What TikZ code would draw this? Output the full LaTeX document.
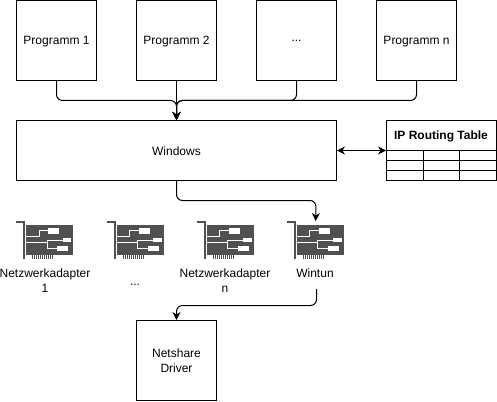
\documentclass[tikz,border=0pt]{standalone}
\usepackage{fontspec}
\setmainfont{Liberation Sans}
\usetikzlibrary{arrows.meta}
\definecolor{icongray}{HTML}{505050}
\newcommand{\dn}[1]{\raisebox{-0.8pt}[\height][\depth]{#1}}
\tikzset{
  x=1pt,y=-1pt,
  box/.style={draw=black,line width=1pt,minimum width=80pt,inner sep=0pt,align=center,font=\fontsize{12}{15}\selectfont},
  lbl/.style={inner sep=0pt,align=center,font=\fontsize{12}{15}\selectfont},
  conn/.style={draw=black,line width=1pt,rounded corners=6pt,-{Stealth[length=8pt,width=8pt]}},
  cardbox/.style={inner sep=0pt,minimum width=58pt,minimum height=38pt},
  grid/.style={draw=black,line width=1pt}
}
\newcommand{\cardicon}[2]{%
  \node[cardbox,anchor=north west] (#1) at (#2,221) {};
  \begin{scope}[shift={(#2,221)}]
    \draw[icongray,line width=2pt] (0,0.5) -- (8,0.5) -- (8,38);
    \fill[icongray] (10,4) rectangle (57.3,34);
    \foreach \px in {16,18,20,22,24,26,28,30,32,34,36}{\fill[icongray] (\px,34) rectangle (\px+1,37.5);}
    \draw[white,line width=1pt] (10,15) -- (23,15) -- (23,9.5) -- (33,9.5);
    \draw[white,line width=1pt] (10,21.5) -- (31,21.5) -- (31,19) -- (47,19);
    \draw[white,line width=1pt] (31,21.5) -- (31,27.5) -- (41,27.5);
    \fill[white] (32,7) rectangle (43,12.5);
    \fill[white] (46.7,16.5) rectangle (55,21);
    \fill[white] (41,25) rectangle (52,30);
  \end{scope}}
\begin{document}
\begin{tikzpicture}
\useasboundingbox (0,0) rectangle (497,401);
\fill[white] (0,0) rectangle (497,401);
\node[box,minimum height=80pt] (p1) at (56.5,40.5) {\dn{Programm 1}};
\node[box,minimum height=80pt] (p2) at (176.5,40.5) {\dn{Programm 2}};
\node[box,minimum height=80pt] (p3) at (296.5,40.5) {\dn{...}};
\node[box,minimum height=80pt] (p4) at (416.5,40.5) {\dn{Programm n}};
\node[box,minimum width=320pt,minimum height=60pt] (win) at (176.5,150.5) {\dn{Windows}};
\node[box,minimum width=110pt,minimum height=60pt] (tab) at (441.5,150.5) {};
\node[lbl,font=\fontsize{12}{15}\selectfont\bfseries] (tabt) at (441,136) {IP Routing Table};
\draw[grid] (tab.west |- 0,150.5) -- (tab.east |- 0,150.5);
\draw[grid] (tab.west |- 0,160.5) -- (tab.east |- 0,160.5);
\draw[grid] (tab.west |- 0,170.5) -- (tab.east |- 0,170.5);
\draw[grid] (423.5,150.5) -- (423.5,180.5);
\draw[grid] (459.5,150.5) -- (459.5,180.5);
\cardicon{c1}{16}
\cardicon{c2}{106.5}
\cardicon{c3}{196.5}
\cardicon{c4}{286.5}
\node[lbl] (l1) at (45,280.5) {Netzwerkadapter\\1};
\node[lbl] (l2) at (135,285) {...};
\node[lbl] (l3) at (225,280.5) {Netzwerkadapter\\n};
\node[lbl] (l4) at (315,273.5) {Wintun};
\coordinate (wout) at (316.5,289);
\node[box,minimum height=80pt] (net) at (176.5,360.5) {Netshare\\Driver};
\draw[conn] (p1.south) -- (56.5,100.5) -- (176.5,100.5) -- (win.north);
\draw[conn] (p2.south) -- (win.north);
\draw[conn] (p3.south) -- (296.5,100.5) -- (176.5,100.5) -- (win.north);
\draw[conn] (p4.south) -- (416.5,100.5) -- (176.5,100.5) -- (win.north);
\draw[conn] (win.south) -- (176.5,200.5) -- (316,200.5) -- (c4.north);
\draw[conn] (wout) -- (316.5,305.5) -- (176.5,305.5) -- (net.north);
\draw[draw=black,line width=1pt,{Stealth[length=8pt,width=8pt]}-{Stealth[length=8pt,width=8pt]}] (win.east) -- (tab.west);
\end{tikzpicture}
\end{document}
